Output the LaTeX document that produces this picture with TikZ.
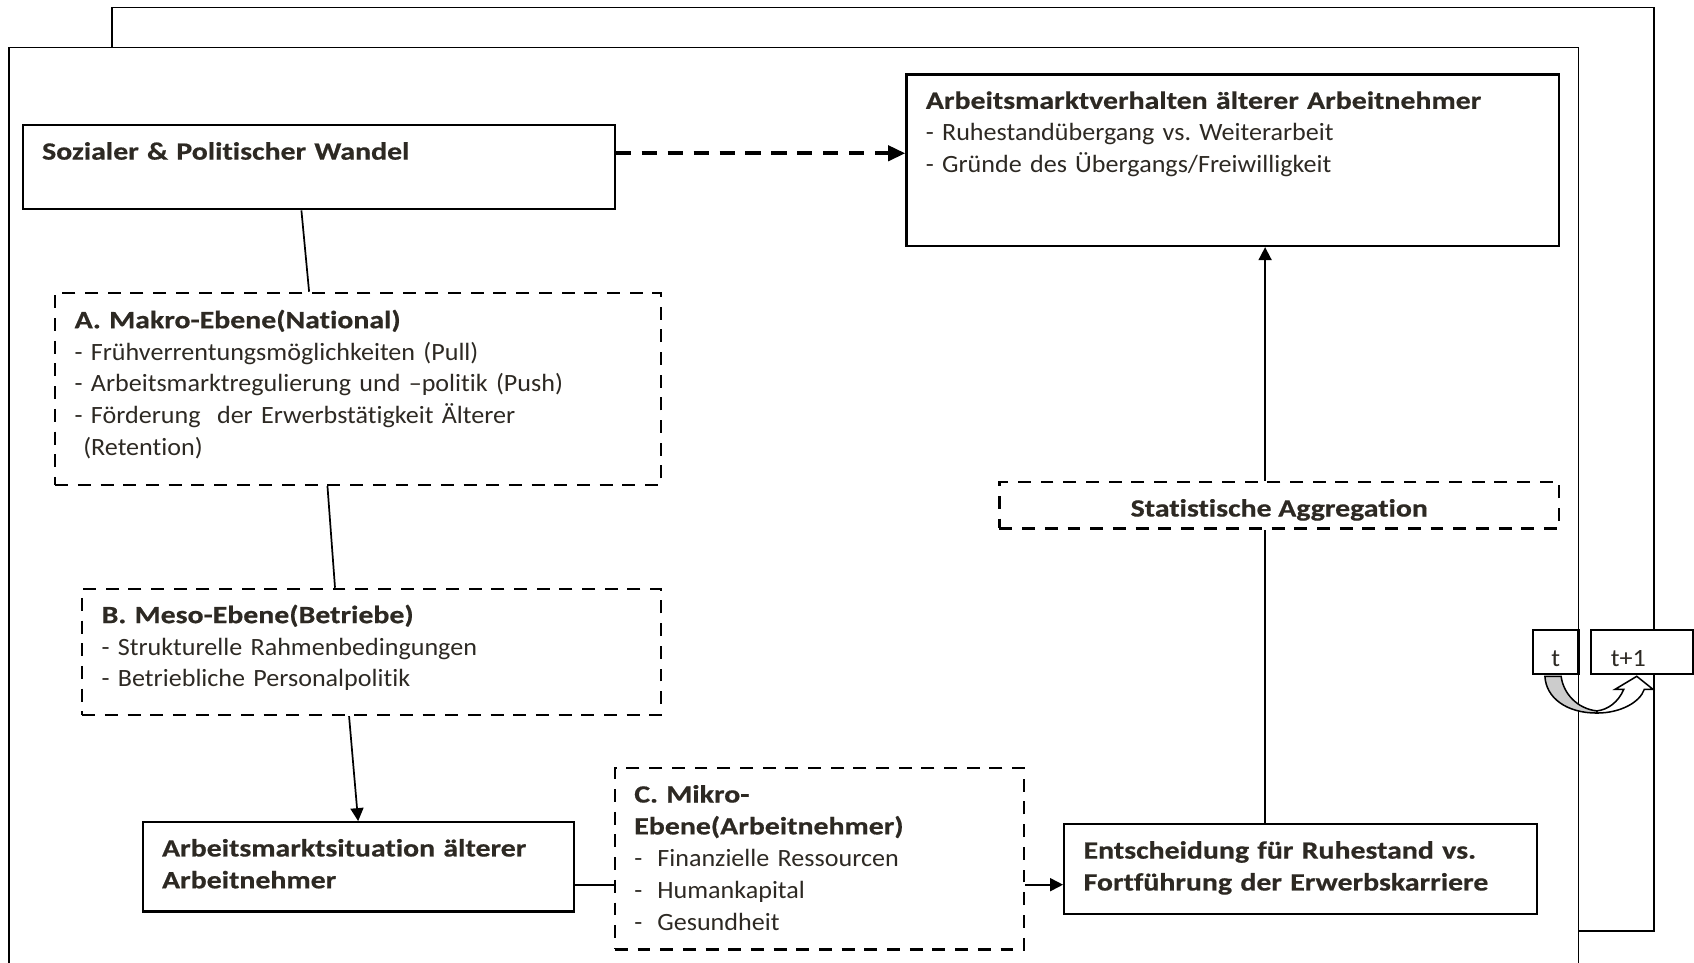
\documentclass[tikz,border=0pt]{standalone}
\usepackage{fontspec}
\setmainfont{Carlito}[Ligatures=NoCommon, UprightFeatures={FakeStretch=1.05}, BoldFeatures={FakeStretch=1.2, FakeBold=0.6}]
\usetikzlibrary{positioning,arrows.meta,calc}
\definecolor{ink}{RGB}{45,41,35}
\frenchspacing
\tikzset{>={Triangle[length=6pt,width=6pt]}}
\tikzset{
  box/.style={draw, line width=1pt, anchor=north west, align=left, inner xsep=9pt,
    inner ysep=7.8pt, text=ink, font=\fontsize{11.5}{14.75}\selectfont},
  dbox/.style={box, line width=1.1pt, dash pattern=on 6pt off 4.5pt},
  tbox/.style={box, fill=white, minimum height=20.5pt, inner ysep=0pt, text height=13pt, text depth=0pt},
  conn/.style={line width=0.8pt},
}

\begin{document}
\begin{tikzpicture}[x=0.5pt,y=-0.5pt]
\useasboundingbox (0,0) rectangle (1568,891);
% frames
\draw[conn] (8,891) |- (1461,44) -- (1461,891);
\coordinate (rueckA) at (104,44);
\coordinate (rueckB) at (1461,862);
\draw[conn] (rueckA) |- (1531,7) |- (rueckB);

\node[box, text width=256pt, text depth=15.2pt] (wandel) at (20,115)
  {\textbf{Sozialer \& Politischer Wandel}};
\node[box, text width=284pt, text depth=55.7pt] (verh) at (838,68)
  {\textbf{Arbeitsmarktverhalten älterer Arbeitnehmer}\\
   - Ruhestandübergang vs. Weiterarbeit\\
   - Gründe des Übergangs/Freiwilligkeit};
\node[dbox, text width=262.5pt, text depth=64.7pt] (makro) at (50,270)
  {\textbf{A. Makro-Ebene(National)}\\
   - Frühverrentungsmöglichkeiten (Pull)\\
   - Arbeitsmarktregulierung und –politik (Push)\\
   - Förderung\ \ der Erwerbstätigkeit Älterer\\
   \hspace*{4pt}(Retention)};
\node[dbox, text width=250pt, text depth=35.2pt, inner ysep=7.3pt] (meso) at (75,544)
  {\textbf{B. Meso-Ebene(Betriebe)}\\
   - Strukturelle Rahmenbedingungen\\
   - Betriebliche Personalpolitik};
\node[box, text width=181.5pt, text depth=17.7pt] (lage) at (131,760)
  {\textbf{Arbeitsmarktsituation älterer}\\
   \textbf{Arbeitnehmer}};
\node[dbox, text width=171.5pt, text depth=60.2pt] (mikro) at (568,710)
  {\textbf{C. Mikro-}\\
   \textbf{Ebene(Arbeitnehmer)}\\
   -\hspace{7pt}Finanzielle Ressourcen\\
   -\hspace{7pt}Humankapital\\
   -\hspace{7pt}Gesundheit};
\node[box, text width=201pt, text depth=17.7pt] (entsch) at (984,762)
  {\textbf{Entscheidung für Ruhestand vs.}\\
   \textbf{Fortführung der Erwerbskarriere}};
\node[dbox, align=center, inner sep=0pt, minimum width=259pt, minimum height=21.5pt,
  text height=10.5pt, text depth=0pt] (aggr) at (924,445)
  {\textbf{Statistische Aggregation}};

% connectors
\draw[line width=1.8pt, dash pattern=on 7pt off 5pt, -{Triangle[length=8pt,width=7pt]}]
  ([yshift=6.5pt]wandel.east) -- ([yshift=6.5pt]wandel.east -| verh.west);
\draw[conn] ([xshift=-8pt]wandel.south) -- ([xshift=-22.75pt]makro.north);
\draw[conn] ([xshift=-14.25pt]makro.south) -- ([xshift=-17pt]meso.north);
\draw[conn,->] ([xshift=-10.5pt]meso.south) -- (lage.north);
\coordinate (kette) at ([yshift=-8.25pt]lage.east);
\draw[conn] (kette) -- (kette -| mikro.west);
\draw[conn,->] (kette -| mikro.east) -- (kette -| entsch.west);
\coordinate (achse) at ([xshift=-16.5pt]entsch.north);
\draw[conn] (achse) -- (achse |- aggr.south);
\draw[conn,->] (achse |- aggr.north) -- (achse |- verh.south);

% time step
\node[tbox, inner xsep=0pt, minimum width=21pt] (t0) at (1418,582) {t};
\node[tbox, text width=29pt] (t1) at (1472,582) {t+1};
\filldraw[line width=0.7pt, fill=white] (1478,660) .. controls (1500,660) and (1518,650) .. (1522,638)
  -- (1530,638) -- (1515,626) -- (1495,638) -- (1503,638)
  .. controls (1498,650) and (1488,657) .. (1478,658) -- cycle;
\filldraw[line width=0.7pt, fill=gray!40] (1430,626) .. controls (1431,646) and (1450,660) .. (1478,660)
  -- (1478,658) .. controls (1460,656) and (1447,642) .. (1445,626) -- cycle;
\end{tikzpicture}
\end{document}
